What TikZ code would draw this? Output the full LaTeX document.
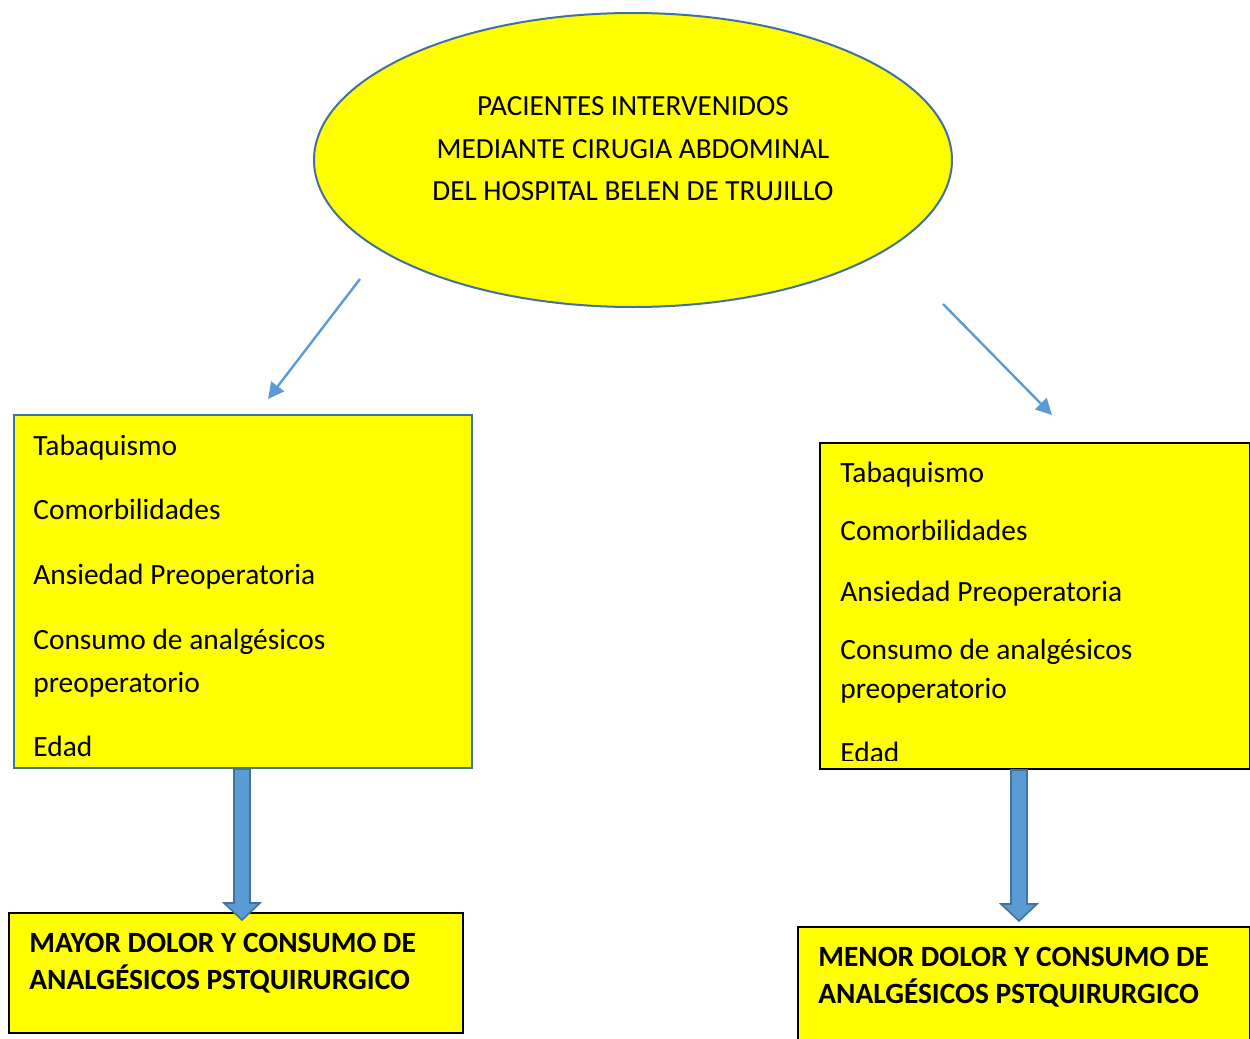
\documentclass[tikz,border=0pt]{standalone}
\usepackage{fontspec}
\setmainfont{Carlito}
\usetikzlibrary{positioning, calc, shapes.geometric, arrows.meta}
\definecolor{boxyellow}{HTML}{FFFF00}
\definecolor{arrowblue}{HTML}{5B9BD5}
\definecolor{edgeblue}{HTML}{41719C}
\tikzstyle{Arrow} = [
arrowblue,
line width=1.2pt,
-{Triangle[length=8pt,width=8pt]}]
\tikzstyle{BlockArrow} = [fill=arrowblue, draw=edgeblue, line width=0.8pt]
\tikzstyle{Box} = [draw, fill=boxyellow, line width=1pt, inner sep=0pt, anchor=north west]
\tikzstyle{Item} = [anchor=base west, inner sep=0pt, font=\fontsize{14.7}{17.5}\selectfont]
\tikzstyle{Result} = [anchor=north west, inner sep=0pt, align=left,
font=\fontsize{14.7}{18.5}\selectfont\bfseries]
\newcommand{\blockarrow}[2]{%
  \draw[BlockArrow] ($(#1)+(-8,0)$) -- ($(#2)+(-8,-17)$) -- ($(#2)+(-18,-17)$)
    -- (#2) -- ($(#2)+(18,-17)$) -- ($(#2)+(8,-17)$) -- ($(#1)+(8,0)$) -- cycle;}

\begin{document}
\begin{tikzpicture}[x=0.5pt, y=-0.5pt]
    \useasboundingbox (0,0) rectangle (1250,1039);

    \node [ellipse, draw=edgeblue, fill=boxyellow, line width=1pt, inner sep=0pt,
        minimum width=319pt, minimum height=147pt] (pac) at (633,160) {};
    \node [align=center, inner sep=0pt, font=\fontsize{14.6}{21.25}\selectfont]
        (title) at (633,149) {PACIENTES INTERVENIDOS\\MEDIANTE CIRUGIA ABDOMINAL\\DEL HOSPITAL BELEN DE TRUJILLO};

    % left group
    \node [Box, draw=edgeblue, minimum width=229pt, minimum height=176.5pt] (lbox) at (13,414) {};
    \node [Item] (l1) at (33,455) {Tabaquismo};
    \node [Item] (l2) at (33,519) {Comorbilidades};
    \node [Item] (l3) at (33,584) {Ansiedad Preoperatoria};
    \node [Item] (l4) at (33,649) {Consumo de analgésicos};
    \node [Item] (l5) at (33,692) {preoperatorio};
    \node [Item] (l6) at (33,756) {Edad};

    % right group
    \node [Box, minimum width=215pt, minimum height=163pt] (rbox) at (819,442) {};
    \node [Item] (r1) at (840,482) {Tabaquismo};
    \node [Item] (r2) at (840,540) {Comorbilidades};
    \node [Item] (r3) at (840,601) {Ansiedad Preoperatoria};
    \node [Item] (r4) at (840,659) {Consumo de analgésicos};
    \node [Item] (r5) at (840,698) {preoperatorio};
    \begin{scope}
        \clip (rbox.north west) rectangle ($(rbox.south east)+(0,-10)$);
        \node [Item] (r6) at (840,762) {Edad};
    \end{scope}

    \node [Box, minimum width=227pt, minimum height=60pt] (lmayor) at (8,912) {};
    \node [Result] (lmayortxt) at (29,933) {MAYOR DOLOR Y CONSUMO DE\\ANALGÉSICOS PSTQUIRURGICO};
    \node [Box, minimum width=226pt, minimum height=65pt] (rmenor) at (797,926) {};
    \node [Result] (rmenortxt) at (818,947) {MENOR DOLOR Y CONSUMO DE\\ANALGÉSICOS PSTQUIRURGICO};

    \coordinate (a1) at (360,279);
    \coordinate (a2) at (268,399);
    \coordinate (b1) at (943,304);
    \coordinate (b2) at (1052,415);
    \draw[Arrow] (a1) -- (a2);
    \draw[Arrow] (b1) -- (b2);

    \coordinate (la) at ($(lbox.south)+(-1,0)$);
    \coordinate (lb) at ($(la |- lmayor.north)+(0,8)$);
    \coordinate (ra) at ($(rbox.south)+(-16,0)$);
    \coordinate (rb) at ($(ra |- rmenor.north)+(0,-5)$);
    \blockarrow{la}{lb}
    \blockarrow{ra}{rb}
\end{tikzpicture}
\end{document}
